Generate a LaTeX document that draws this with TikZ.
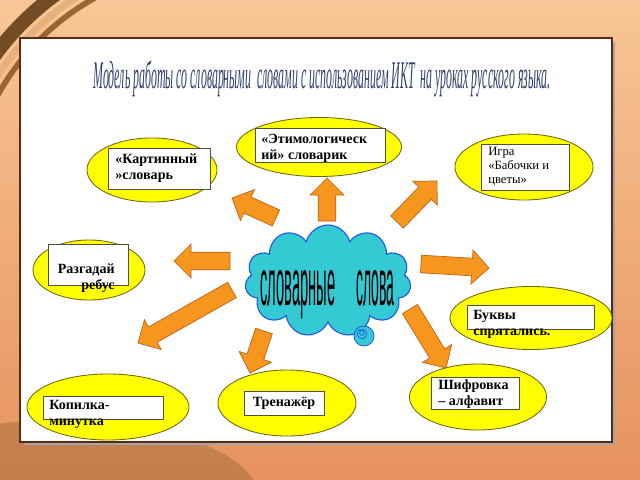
\documentclass[tikz,border=0pt]{standalone}
\usepackage{fontspec}
\setmainfont{Liberation Serif}
\newfontfamily\wordartfont{Liberation Sans}
\usepackage{pdfrender}
\usetikzlibrary{shapes.geometric,shapes.symbols,calc}

\definecolor{bgtop}{RGB}{248,198,150}
\definecolor{bgbottom}{RGB}{230,146,94}
\definecolor{framebrown}{RGB}{92,42,14}
\definecolor{ovalfill}{RGB}{255,255,0}
\definecolor{ovalline}{RGB}{110,100,20}
\definecolor{boxline}{RGB}{80,80,60}
\definecolor{arrowfill}{RGB}{247,150,30}
\definecolor{arrowline}{RGB}{190,100,20}
\definecolor{cloudfill}{RGB}{52,202,212}
\definecolor{cloudline}{RGB}{30,90,220}
\definecolor{titleblue}{RGB}{48,62,112}

% block arrow from tail #1 to tip #2
\newcommand{\blockarrow}[2]{%
  \coordinate (hb) at ($(#2)!0.425cm!(#1)$);
  \draw[arrowbody] ($(#1)!0.22cm!90:(#2)$) -- ($(hb)!0.22cm!90:(#2)$)
    -- ($(hb)!0.425cm!90:(#2)$) -- (#2) -- ($(hb)!0.425cm!-90:(#2)$)
    -- ($(hb)!0.22cm!-90:(#2)$) -- ($(#1)!0.22cm!-90:(#2)$) -- cycle;}

\newcommand{\wordart}[1]{\wordartfont\textpdfrender{TextRenderingMode=FillStroke,
  LineWidth=0.4pt, StrokeColor=yellow, FillColor=black, LineDashPattern={[0.4 0.6]0}}{#1}}

\begin{document}
\begin{tikzpicture}[x=0.025cm,y=-0.025cm,
  oval/.style={ellipse, draw=ovalline, fill=ovalfill, line width=0.6pt, inner sep=0pt},
  box/.style={rectangle, draw=boxline, fill=white, line width=0.5pt, inner sep=0pt},
  boxtext/.style={inner sep=0pt, align=left, font=\fontsize{10}{11.3}\selectfont\bfseries},
  arrowbody/.style={fill=arrowfill, draw=arrowline, line width=0.5pt, line join=miter}]
  \useasboundingbox (0,0) rectangle (640,480);

  % background
  \shade[top color=bgtop, bottom color=bgbottom] (0,0) rectangle (640,480);
  \fill[brown!70!black, opacity=0.35] (60,500) ellipse (5cm and 2cm);
  \begin{scope}
    \clip (0,0) rectangle (140,140);
    \draw[line width=10pt, brown!60!black] (215,215) circle (6.8cm);
    \draw[line width=5pt, bgtop!70!brown] (215,215) circle (6.45cm);
    \draw[line width=4pt, brown!80!black] (215,215) circle (6.2cm);
  \end{scope}

  % panel
  \fill[black!35] (24,42) rectangle (615,445);
  \draw[framebrown, line width=2pt, fill=white] (20,38) rectangle (612,442);

  \node[anchor=base west, inner sep=0pt, text=titleblue] (title) at (93,88)
    {\resizebox{11.425cm}{0.7cm}{\itshape Модель работы со словарными\ \ словами с использованием ИКТ\ \ на уроках русского языка.}};

  % ovals
  \node[oval, minimum width=3.25cm, minimum height=1.6cm] (kart) at (152,170) {};
  \node[oval, minimum width=4.125cm, minimum height=1.475cm] (etym) at (319,147) {};
  \node[oval, minimum width=3.45cm, minimum height=1.65cm] (igra) at (524,167) {};
  \node[oval, minimum width=2.8cm, minimum height=1.5cm] (razg) at (89,270) {};
  \node[oval, minimum width=4.05cm, minimum height=1.575cm] (bukv) at (531,318) {};
  \node[oval, minimum width=4.05cm, minimum height=1.65cm] (kopi) at (108,407) {};
  \node[oval, minimum width=3.45cm, minimum height=1.65cm] (tren) at (287,403) {};
  \node[oval, minimum width=3.425cm, minimum height=1.65cm] (shif) at (478,397) {};

  % boxes
  \node[box, minimum width=2.55cm, minimum height=1.025cm] (kartbox) at (159,168.5) {};
  \node[box, minimum width=3.25cm, minimum height=0.85cm] (etymbox) at (320,145) {};
  \node[box, minimum width=2.2cm, minimum height=1.15cm] (igrabox) at (525,167) {};
  \node[box, minimum width=2cm, minimum height=1.025cm] (razgbox) at (88,264.5) {};
  \node[box, minimum width=3.175cm, minimum height=0.6cm] (bukvbox) at (530.5,317) {};
  \node[box, minimum width=3cm, minimum height=0.575cm] (kopibox) at (103,407.5) {};
  \node[box, minimum width=2cm, minimum height=0.6cm] (trenbox) at (284,403) {};
  \node[box, minimum width=2.2cm, minimum height=0.8cm] (shifbox) at (475,393) {};

  % texts
  \node[boxtext, anchor=west] (karttext) at (115,168) {«Картинный\\»словарь};
  \node[boxtext, anchor=west] (etymtext) at (261,148) {«Этимологическ\\ий» словарик};
  \node[boxtext, anchor=west, font=\fontsize{9}{9.7}\selectfont] (igratext) at (488,166.5) {Игра\\«Бабочки и\\цветы»};
  \node[boxtext, anchor=east, align=right] (razgtext) at (115,278.5) {Разгадай\\ребус};
  \node[boxtext, anchor=west] (bukvtext) at (473,324) {Буквы\\спрятались.};
  \node[boxtext, anchor=west] (kopitext) at (49,414.5) {Копилка-\\минутка};
  \node[boxtext] (trentext) at (284,403) {Тренажёр};
  \node[boxtext, anchor=west] (shiftext) at (438,394.5) {Шифровка\\– алфавит};

  % arrows
  \coordinate (upT) at (327,221);   \coordinate (upH) at (327,178);
  \coordinate (ulT) at (276,218);   \coordinate (ulH) at (232,198);
  \coordinate (urT) at (397,222);   \coordinate (urH) at (437,181);
  \coordinate (lT) at (230,261);    \coordinate (lH) at (174,261);
  \coordinate (rT) at (421,264);    \coordinate (rH) at (489,268);
  \coordinate (drT) at (410,309);   \coordinate (drH) at (446,368);
  \coordinate (dT) at (264,331);    \coordinate (dH) at (250,373);
  \coordinate (dlT) at (232,290);   \coordinate (dlH) at (138,343);
  \blockarrow{upT}{upH}
  \blockarrow{ulT}{ulH}
  \blockarrow{urT}{urH}
  \blockarrow{lT}{lH}
  \blockarrow{rT}{rH}
  \blockarrow{drT}{drH}
  \blockarrow{dT}{dH}
  \blockarrow{dlT}{dlH}

  % cloud
  \node[cloud, cloud puffs=11, aspect=1.5, minimum width=4.15cm, minimum height=2.8cm,
    draw=cloudline, fill=cloudfill, line width=0.8pt, inner sep=0pt] (cloud) at (328,281) {};
  \node[circle, draw=cloudline, fill=cloudfill, line width=0.6pt, minimum size=0.5cm, inner sep=0pt] (bubble) at (364,336) {};
  \draw[cloudline, line width=0.5pt] (362,334) circle (0.12cm) (362,333) circle (0.06cm);

  \node[anchor=base west, inner sep=0pt] (word1) at (260,305)
    {\resizebox{1.875cm}{0.875cm}{\wordart{словарные}}};
  \node[anchor=base west, inner sep=0pt] (word2) at (356,305)
    {\resizebox{0.95cm}{0.875cm}{\wordart{слова}}};
\end{tikzpicture}
\end{document}
